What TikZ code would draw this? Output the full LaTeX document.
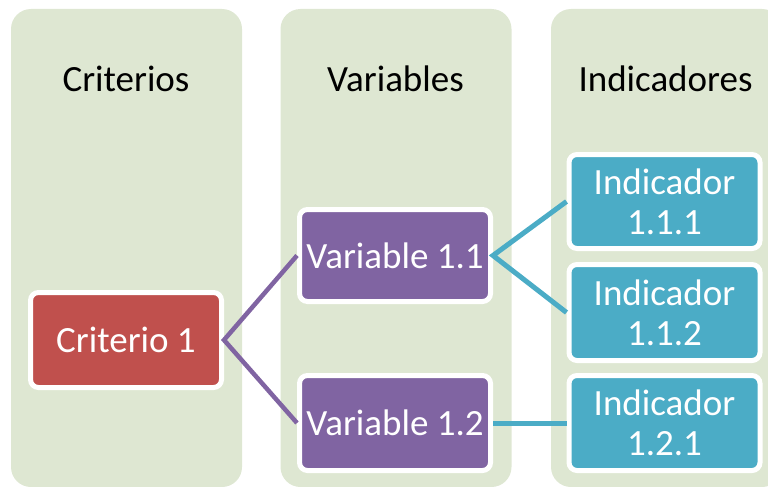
\documentclass[tikz,border=0pt]{standalone}
\usepackage{fontspec}
\setmainfont{Carlito}
\definecolor{colbg}{RGB}{222,231,210}
\definecolor{critred}{RGB}{192,80,77}
\definecolor{varpurple}{RGB}{128,100,162}
\definecolor{indteal}{RGB}{75,172,198}
\begin{document}
\begin{tikzpicture}[x=1pt,y=-1pt,
  column/.style={fill=colbg, rounded corners=20pt, minimum width=231pt, minimum height=478pt, inner sep=0pt},
  header/.style={anchor=base, font=\fontsize{37}{40}\selectfont, text=black},
  box/.style={draw=white, line width=5pt, rounded corners=8pt, minimum width=191pt, minimum height=95pt, inner sep=0pt, text=white, align=center, font=\fontsize{37}{40}\selectfont},
  critbox/.style={box, fill=critred},
  varbox/.style={box, fill=varpurple},
  indbox/.style={box, fill=indteal},
  purpleline/.style={draw=varpurple, line width=4.5pt},
  tealline/.style={draw=indteal, line width=5pt}
]
\useasboundingbox (0,0) rectangle (768,487);
\clip (0,0) rectangle (768,487);
% columns
\node[column] (c1) at (126.5,248) {};
\node[column] (c2) at (396,248) {};
\node[column] (c3) at (666.5,248) {};
% headers
\node[header] (h1) at (126,92) {Criterios};
\node[header] (h2) at (395.5,92) {Variables};
\node[header] (h3) at (665.5,92) {Indicadores};
% boxes
\node[critbox] (crit) at (126,340) {Criterio 1};
\node[varbox, minimum height=92pt] (v11) at (395,255.5) {Variable 1.1};
\node[varbox] (v12) at (395,423) {Variable 1.2};
\node[indbox, minimum height=94pt] (i111) at (664.5,201.5) {Indicador\\1.1.1};
\node[indbox, minimum height=96pt] (i112) at (664.5,312.5) {Indicador\\1.1.2};
\node[indbox] (i121) at (664.5,423) {Indicador\\1.2.1};
% connectors
\draw[purpleline] (v11.west) -- (crit.east) -- (v12.west);
\draw[tealline] (i111.west) -- (v11.east) -- (i112.west);
\draw[tealline] (v12.east) -- (i121.west);
\end{tikzpicture}
\end{document}
